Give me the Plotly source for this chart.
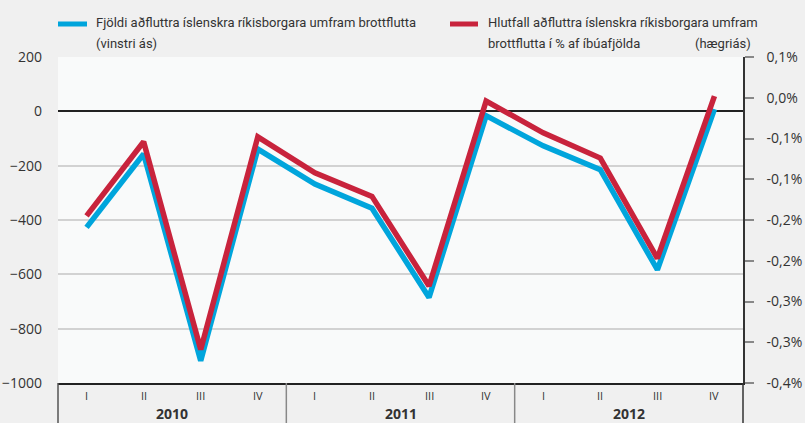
import plotly.graph_objects as go

quarters = ["I", "II", "III", "IV"] * 3
years = ["2010", "2011", "2012"]
blue_vals = [-427, -157, -918, -139, -268, -357, -685, -16, -127, -215, -583, 8]
red_vals = [-0.145, -0.054, -0.309, -0.048, -0.092, -0.121, -0.231, -0.004, -0.043, -0.074, -0.197, 0.002]
left_ticks = [200, 0, -200, -400, -600, -800, -1000]
right_tickvals = [0.05, 0.0, -0.05, -0.10, -0.15, -0.20, -0.25, -0.30, -0.35]
right_ticktext = ["0,1%", "0,0%", "-0,1%", "-0,1%", "-0,2%", "-0,2%", "-0,3%", "-0,3%", "-0,4%"]
legend_blue = ["Fjöldi aðfluttra íslenskra ríkisborgara umfram brottflutta", "(vinstri ás)"]
legend_red = ["Hlutfall aðfluttra íslenskra ríkisborgara umfram", "brottflutta í % af íbúafjölda", "(hægriás)"]

BLUE = "#00a5dc"
RED = "#c8233c"
W, H = 805, 423
L, R, T, B = 58, 62, 57, 40
PW, PH = W - L - R, H - T - B

def px(x):
    return (x - L) / PW

def py(y):
    return (H - B - y) / PH

xs = list(range(len(quarters)))
fig = go.Figure()
fig.add_trace(go.Scatter(x=xs, y=blue_vals, mode="lines", line=dict(color=BLUE, width=5.5),
                         showlegend=False, hoverinfo="skip"))
fig.add_trace(go.Scatter(x=xs, y=red_vals, mode="lines", line=dict(color=RED, width=5.5),
                         yaxis="y2", showlegend=False, hoverinfo="skip"))

tick_font = dict(family="Open Sans", size=14, color="#333333")
leg_font = dict(family="Roboto", size=13, color="#333333")

fig.update_layout(
    width=W, height=H,
    margin=dict(l=L, r=R, t=T, b=B, autoexpand=False),
    paper_bgcolor="#f0f0f0", plot_bgcolor="#f9fafa",
    xaxis=dict(range=[-0.5, 11.5], showticklabels=False, showgrid=False, zeroline=False,
               showline=True, linecolor="#222222", linewidth=1.5, fixedrange=True,
               automargin=False),
    yaxis=dict(range=[-1000, 200], tickvals=left_ticks, showgrid=True, gridcolor="#d2d2d2",
               gridwidth=2, zeroline=True, zerolinecolor="#222222", zerolinewidth=1.5,
               tickfont=tick_font, ticks="", ticklabelstandoff=15, showline=False,
               automargin=False),
    yaxis2=dict(range=[-0.35, 0.05], overlaying="y", side="right", tickvals=right_tickvals,
                ticktext=right_ticktext, showgrid=False, zeroline=False, showline=True,
                linecolor="#333333", linewidth=1.5, ticks="outside", ticklen=9,
                tickcolor="#888888", tickwidth=1.5, tickfont=tick_font, ticklabelstandoff=10,
                automargin=False),
)

annotations = []
for i, q in enumerate(quarters):
    annotations.append(dict(x=i, y=0, xref="x", yref="paper", text=q, showarrow=False,
                            yanchor="middle", yshift=-12,
                            font=dict(family="Open Sans", size=11, color="#333333")))
for k, yr in enumerate(years):
    annotations.append(dict(x=4 * k + 1.5, y=0, xref="x", yref="paper", text="<b>" + yr + "</b>",
                            showarrow=False, yanchor="middle", yshift=-30,
                            font=dict(family="Open Sans", size=14, color="#333333")))
annotations += [
    dict(x=px(94), y=py(23), xref="paper", yref="paper", text=legend_blue[0], showarrow=False,
         xanchor="left", yanchor="middle", font=leg_font),
    dict(x=px(94), y=py(43), xref="paper", yref="paper", text=legend_blue[1], showarrow=False,
         xanchor="left", yanchor="middle", font=leg_font),
    dict(x=px(486), y=py(23), xref="paper", yref="paper", text=legend_red[0], showarrow=False,
         xanchor="left", yanchor="middle", font=leg_font),
    dict(x=px(486), y=py(43), xref="paper", yref="paper", text=legend_red[1], showarrow=False,
         xanchor="left", yanchor="middle", font=leg_font),
    dict(x=px(753), y=py(43), xref="paper", yref="paper", text=legend_red[2], showarrow=False,
         xanchor="right", yanchor="middle", font=leg_font),
]
fig.update_layout(annotations=annotations)

ybot = py(H)
shapes = [
    dict(type="line", xref="paper", yref="paper", x0=px(58), x1=px(87), y0=py(24), y1=py(24),
         line=dict(color=BLUE, width=5)),
    dict(type="line", xref="paper", yref="paper", x0=px(450), x1=px(478), y0=py(24), y1=py(24),
         line=dict(color=RED, width=5)),
    dict(type="line", xref="paper", yref="paper", x0=0, x1=0, y0=0, y1=ybot,
         line=dict(color="#555555", width=1.5)),
    dict(type="line", xref="paper", yref="paper", x0=1, x1=1, y0=0, y1=ybot,
         line=dict(color="#333333", width=1.5)),
]
for k in range(1, len(years)):
    shapes.append(dict(type="line", xref="x", yref="paper", x0=4 * k - 0.5, x1=4 * k - 0.5,
                       y0=0, y1=ybot, line=dict(color="#888888", width=1.5)))
fig.update_layout(shapes=shapes)

fig.write_html("out.html", config={"displayModeBar": False},
               post_script="document.body.style.margin='0';document.body.style.overflow='hidden';")
